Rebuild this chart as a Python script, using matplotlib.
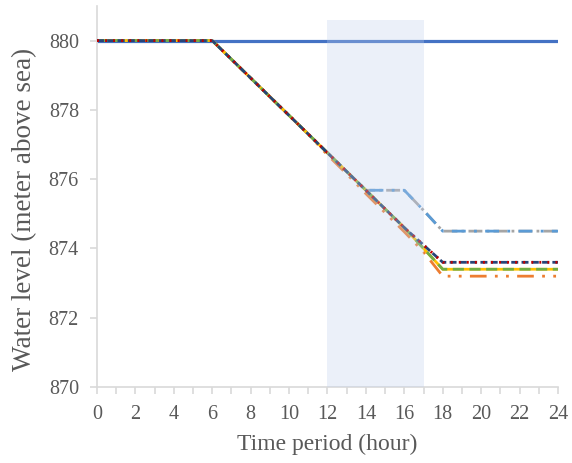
import matplotlib
matplotlib.use("Agg")
import matplotlib.pyplot as plt
from matplotlib.ticker import MultipleLocator

# Data
hours = list(range(25))
base = [880.0] * 7 + [879.46, 878.92, 878.38, 877.84, 877.3, 876.76, 876.22, 875.68, 875.14, 874.6]
flat_880 = [880.0] * 25
navy = base + [874.1] + [873.6] * 7
red = base + [874.1] + [873.6] * 7
green = base + [874.0] + [873.4] * 7
yellow = base + [874.0] + [873.4] * 7
orange = [880.0] * 7 + [879.46, 878.92, 878.38, 877.84, 877.3, 876.7, 876.15, 875.58,
                         875.03, 874.48, 873.9] + [873.2] * 7
ltblue = [880.0] * 7 + [879.46, 878.92, 878.38, 877.84, 877.3, 876.76, 876.22,
                         875.68, 875.68, 875.68, 875.1] + [874.5] * 7
grey = ltblue

shade_start, shade_end = 12, 17

TXT = "#595959"
AX = "#D9D9D9"

plt.rcParams["font.family"] = ["Liberation Serif", "DejaVu Serif"]

fig = plt.figure(figsize=(5.72, 4.63), dpi=100)
ax = fig.add_axes([0.1696, 0.1641, 0.8059, 0.823])

lw = 2.0
ax.plot(hours, flat_880, color="#4472C4", lw=2.3, solid_capstyle="butt", zorder=2)
ax.plot(hours, grey, color="#A5A5A5", lw=lw, dashes=(5, 1.5, 1, 1.5), zorder=3)
ax.plot(hours, ltblue, color="#5B9BD5", lw=lw, dashes=(5, 3, 1, 3), zorder=3)
ax.plot(hours, orange, color="#ED7D31", lw=lw, dashes=(6, 3, 1, 3, 1, 3), zorder=3)
ax.plot(hours, yellow, color="#FFC000", lw=lw, zorder=3)
ax.plot(hours, green, color="#70AD47", lw=lw, dashes=(4, 2), zorder=4)
ax.plot(hours, navy, color="#264478", lw=lw, dashes=(2.5, 1.2), zorder=5)
ax.plot(hours, red, color="#C00000", lw=lw, dashes=(0.7, 2.2), zorder=6)

ax.fill_between([shade_start, shade_end], 870, 880.6, color="#C0D0EE",
                alpha=0.3, lw=0, zorder=10)

ax.set_xlim(0, 24)
ax.set_ylim(870, 881)
ax.set_yticks([870, 872, 874, 876, 878, 880])
ax.xaxis.set_major_locator(MultipleLocator(2))
ax.xaxis.set_minor_locator(MultipleLocator(1))

for s in ["top", "right"]:
    ax.spines[s].set_visible(False)
for s in ["left", "bottom"]:
    ax.spines[s].set_color(AX)
    ax.spines[s].set_linewidth(1.2)

ax.tick_params(axis="both", which="both", colors=AX, labelcolor=TXT,
               labelsize=14.5, width=1.2)
ax.tick_params(axis="x", which="both", length=5, pad=8)
ax.tick_params(axis="y", length=5, pad=8)

ax.set_xlabel("Time period (hour)", fontsize=17, color=TXT, labelpad=7)
ax.set_ylabel("Water level (meter above sea)", fontsize=19.5, color=TXT)
ax.yaxis.set_label_coords(-0.13, 0.465)

fig.savefig("out.png", dpi=100, facecolor="white")
